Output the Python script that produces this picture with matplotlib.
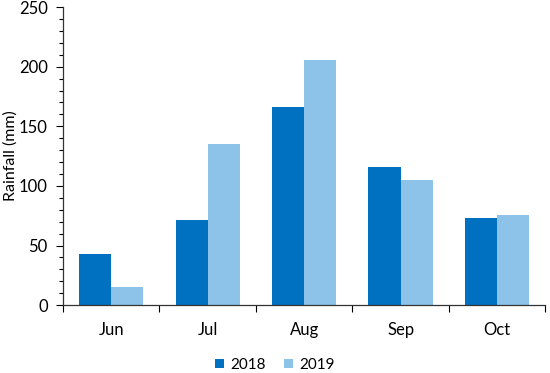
import matplotlib
matplotlib.use("Agg")
import matplotlib.pyplot as plt
import numpy as np
from matplotlib.ticker import MultipleLocator, FixedLocator

plt.rcParams['font.family'] = ['Lato', 'DejaVu Sans']

months = ['Jun', 'Jul', 'Aug', 'Sep', 'Oct']
rain_2018 = [43, 71, 166, 116, 73]
rain_2019 = [15, 135, 206, 105, 76]

fig = plt.figure(figsize=(5.5, 3.73), dpi=100)
ax = fig.add_axes([0.1145, 0.182, 0.877, 0.799])

x = np.arange(len(months))
w = 1 / 3
ax.bar(x - w / 2, rain_2018, w, color='#0070C0', label='2018')
ax.bar(x + w / 2, rain_2019, w, color='#8DC3E8', label='2019')

ax.set_xlim(-0.5, len(months) - 0.5)
ax.set_ylim(0, 250)
ax.yaxis.set_major_locator(MultipleLocator(50))
ax.yaxis.set_minor_locator(MultipleLocator(10))

# category labels centred, ticks at category boundaries
ax.set_xticks(x)
ax.set_xticklabels(months, fontsize=12)
ax.tick_params(axis='x', which='major', length=0, pad=12)
ax.xaxis.set_minor_locator(FixedLocator(np.arange(-0.5, len(months), 1)))
ax.tick_params(axis='x', which='minor', length=5, width=0.8, direction='out')
ax.tick_params(axis='y', which='major', length=5, width=0.8, labelsize=12, pad=6)
ax.tick_params(axis='y', which='minor', length=3, width=0.8)

for s in ['top', 'right']:
    ax.spines[s].set_visible(False)
for s in ['left', 'bottom']:
    ax.spines[s].set_color('#333333')
    ax.spines[s].set_linewidth(0.9)

ax.set_ylabel('Rainfall (mm)', fontsize=11.5)
ax.yaxis.set_label_coords(-0.093, 0.5)

fig.legend(loc='center', bbox_to_anchor=(0.5, 8 / 373), ncol=2, frameon=False,
           fontsize=11, handlelength=0.6, handleheight=0.6, handletextpad=0.4,
           columnspacing=1.2)

fig.savefig('out.png', dpi=100)
